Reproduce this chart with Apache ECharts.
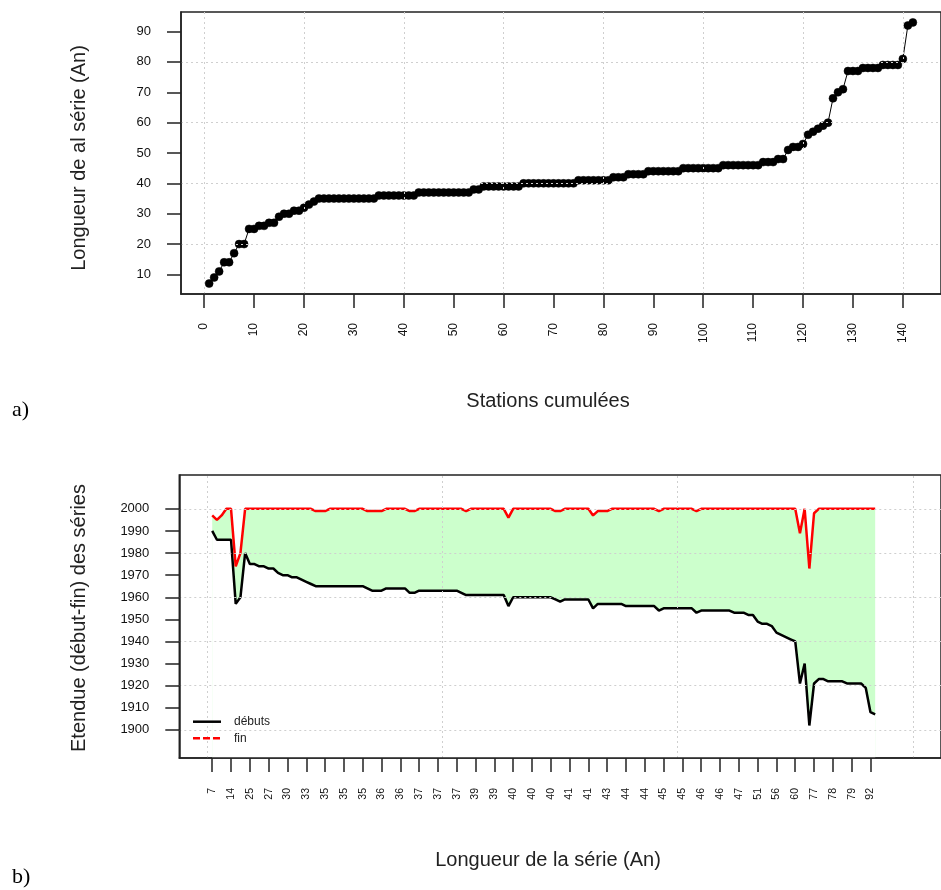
<!DOCTYPE html>
<html><head><meta charset="utf-8">
<script src="https://cdn.jsdelivr.net/npm/echarts@6/dist/echarts.min.js"></script>
<style>html,body{margin:0;padding:0;background:#fff}#c{width:941px;height:890px}</style>
</head><body><div id="c"></div>
<script>
// ---- Data ----
// a) lengths of the series (years), stations sorted by length
const stationLengths = [
  7, 9, 11, 14, 14, 17, 20, 20, 25, 25,
  26, 26, 27, 27, 29, 30, 30, 31, 31, 32,
  33, 34, 35, 35, 35, 35, 35, 35, 35, 35,
  35, 35, 35, 35, 36, 36, 36, 36, 36, 36,
  36, 36, 37, 37, 37, 37, 37, 37, 37, 37,
  37, 37, 37, 38, 38, 39, 39, 39, 39, 39,
  39, 39, 39, 40, 40, 40, 40, 40, 40, 40,
  40, 40, 40, 40, 41, 41, 41, 41, 41, 41,
  41, 42, 42, 42, 43, 43, 43, 43, 44, 44,
  44, 44, 44, 44, 44, 45, 45, 45, 45, 45,
  45, 45, 45, 46, 46, 46, 46, 46, 46, 46,
  46, 47, 47, 47, 48, 48, 51, 52, 52, 53,
  56, 57, 58, 59, 60, 68, 70, 71, 77, 77,
  77, 78, 78, 78, 78, 79, 79, 79, 79, 81,
  92, 93
];
// b) first year (débuts) per station
const debuts = [
  1990, 1986, 1986, 1986, 1986, 1957, 1960, 1980, 1975, 1975,
  1974, 1974, 1973, 1973, 1971, 1970, 1970, 1969, 1969, 1968,
  1967, 1966, 1965, 1965, 1965, 1965, 1965, 1965, 1965, 1965,
  1965, 1965, 1965, 1964, 1963, 1963, 1963, 1964, 1964, 1964,
  1964, 1964, 1962, 1962, 1963, 1963, 1963, 1963, 1963, 1963,
  1963, 1963, 1963, 1962, 1961, 1961, 1961, 1961, 1961, 1961,
  1961, 1961, 1961, 1956, 1960, 1960, 1960, 1960, 1960, 1960,
  1960, 1960, 1960, 1959, 1958, 1959, 1959, 1959, 1959, 1959,
  1959, 1955, 1957, 1957, 1957, 1957, 1957, 1957, 1956, 1956,
  1956, 1956, 1956, 1956, 1956, 1954, 1955, 1955, 1955, 1955,
  1955, 1955, 1955, 1953, 1954, 1954, 1954, 1954, 1954, 1954,
  1954, 1953, 1953, 1953, 1952, 1952, 1949, 1948, 1948, 1947,
  1944, 1943, 1942, 1941, 1940, 1921, 1930, 1902, 1921, 1923,
  1923, 1922, 1922, 1922, 1922, 1921, 1921, 1921, 1921, 1919,
  1908, 1907
];
// b) last year (fin) per station
const fins = [
  1997, 1995, 1997, 2000, 2000, 1974, 1980, 2000, 2000, 2000,
  2000, 2000, 2000, 2000, 2000, 2000, 2000, 2000, 2000, 2000,
  2000, 2000, 1999, 1999, 1999, 2000, 2000, 2000, 2000, 2000,
  2000, 2000, 2000, 1999, 1999, 1999, 1999, 2000, 2000, 2000,
  2000, 2000, 1999, 1999, 2000, 2000, 2000, 2000, 2000, 2000,
  2000, 2000, 2000, 2000, 1999, 2000, 2000, 2000, 2000, 2000,
  2000, 2000, 2000, 1996, 2000, 2000, 2000, 2000, 2000, 2000,
  2000, 2000, 2000, 1999, 1999, 2000, 2000, 2000, 2000, 2000,
  2000, 1997, 1999, 1999, 1999, 2000, 2000, 2000, 2000, 2000,
  2000, 2000, 2000, 2000, 2000, 1999, 2000, 2000, 2000, 2000,
  2000, 2000, 2000, 1999, 2000, 2000, 2000, 2000, 2000, 2000,
  2000, 2000, 2000, 2000, 2000, 2000, 2000, 2000, 2000, 2000,
  2000, 2000, 2000, 2000, 2000, 1989, 2000, 1973, 1998, 2000,
  2000, 2000, 2000, 2000, 2000, 2000, 2000, 2000, 2000, 2000,
  2000, 2000
];
// tick labels
const topXTicks = [0, 10, 20, 30, 40, 50, 60, 70, 80, 90, 100, 110, 120, 130, 140];
const topYTicks = [10, 20, 30, 40, 50, 60, 70, 80, 90];
const topXGrid = [0, 20, 40, 60, 80, 100, 120, 140];
const topYGrid = [20, 40, 60, 80];
const bottomYTicks = [1900, 1910, 1920, 1930, 1940, 1950, 1960, 1970, 1980, 1990, 2000];
const bottomYGrid = [1900, 1920, 1940, 1960, 1980, 2000];
const bottomXGrid = [0, 50, 100, 150];
const bottomXTickLabels = ['7','14','25','27','30','33','35','35','35','36','36','37','37','37','39','39','40','40',
  '40','41','41','43','44','44','45','45','46','46','47','51','56','60','77','78','79','92'];

// ---- Build ----
const FONT = "'Liberation Sans', Arial, sans-serif";
const stationIdx = stationLengths.map((_, i) => i + 1);
const bottomXTickPos = bottomXTickLabels.map((_, i) => 1 + 4 * i);
const labelMap = {};
bottomXTickPos.forEach((p, i) => { labelMap[p] = bottomXTickLabels[i]; });

const gridLine = { color: '#cfcfcf', type: [2, 3], width: 1 };
function gridMarks(xs, ys) {
  return {
    silent: true, symbol: 'none', label: { show: false }, lineStyle: gridLine, animation: false,
    emphasis: { disabled: true },
    data: xs.map(v => ({ xAxis: v })).concat(ys.map(v => ({ yAxis: v })))
  };
}
const axisBase = {
  z: 10,
  axisLine: { show: true, onZero: false, lineStyle: { color: '#222', width: 1.5 } },
  axisTick: { show: true, length: 14, lineStyle: { color: '#222', width: 1.5 } },
  splitLine: { show: false }
};

const chart = echarts.init(document.getElementById('c'), null, { renderer: 'canvas' });
chart.setOption({
  animation: false,
  backgroundColor: '#fff',
  grid: [
    { left: 181, top: 12, width: 764.5, height: 282, show: true, borderColor: '#222', borderWidth: 1.5, backgroundColor: 'transparent' },
    { left: 179.3, top: 475, width: 768, height: 283, show: true, borderColor: '#222', borderWidth: 1.5, backgroundColor: 'transparent' }
  ],
  xAxis: [
    Object.assign({}, axisBase, {
      type: 'value', gridIndex: 0, min: -4.64, max: 147.64,
      axisTick: Object.assign({}, axisBase.axisTick, { customValues: topXTicks }),
      axisLabel: { customValues: topXTicks, rotate: 90, margin: 29, fontSize: 12, color: '#111', fontFamily: FONT,
        formatter: v => String(v) }
    }),
    Object.assign({}, axisBase, {
      type: 'value', gridIndex: 1, min: -6, max: 156,
      axisTick: Object.assign({}, axisBase.axisTick, { customValues: bottomXTickPos }),
      axisLabel: { customValues: bottomXTickPos, rotate: 90, margin: 30, fontSize: 10.5, color: '#111', fontFamily: FONT,
        formatter: v => labelMap[v] !== undefined ? labelMap[v] : '' }
    })
  ],
  yAxis: [
    Object.assign({}, axisBase, {
      type: 'value', gridIndex: 0, min: 3.56, max: 96.44,
      axisTick: Object.assign({}, axisBase.axisTick, { customValues: topYTicks }),
      axisLabel: { customValues: topYTicks, margin: 30, fontSize: 13, color: '#111', fontFamily: FONT,
        formatter: v => String(v) }
    }),
    Object.assign({}, axisBase, {
      type: 'value', gridIndex: 1, min: 1887.3, max: 2015.3,
      axisTick: Object.assign({}, axisBase.axisTick, { customValues: bottomYTicks }),
      axisLabel: { customValues: bottomYTicks, margin: 30, fontSize: 13, color: '#111', fontFamily: FONT,
        formatter: v => String(v) }
    })
  ],
  series: [
    {
      type: 'line', xAxisIndex: 0, yAxisIndex: 0,
      data: stationIdx.map((x, i) => [x, stationLengths[i]]),
      symbol: 'circle', symbolSize: 8, showSymbol: true,
      itemStyle: { color: '#000', borderColor: '#000', borderWidth: 0.5 },
      lineStyle: { color: '#000', width: 1 },
      emphasis: { disabled: true },
      markLine: gridMarks(topXGrid, topYGrid)
    },
    {
      type: 'line', xAxisIndex: 1, yAxisIndex: 1, name: 'finArea',
      data: stationIdx.map((x, i) => [x, fins[i]]),
      symbol: 'none', lineStyle: { width: 0, opacity: 0 },
      areaStyle: { color: '#ccffcc', opacity: 1, origin: 'start' },
      emphasis: { disabled: true }
    },
    {
      type: 'line', xAxisIndex: 1, yAxisIndex: 1, name: 'debArea',
      data: stationIdx.map((x, i) => [x, debuts[i]]),
      symbol: 'none', lineStyle: { width: 0, opacity: 0 },
      areaStyle: { color: '#ffffff', opacity: 1, origin: 'start' },
      emphasis: { disabled: true }
    },
    {
      type: 'line', xAxisIndex: 1, yAxisIndex: 1, name: 'débuts',
      data: stationIdx.map((x, i) => [x, debuts[i]]),
      symbol: 'none', lineStyle: { color: '#000', width: 2.5 },
      emphasis: { disabled: true }
    },
    {
      type: 'line', xAxisIndex: 1, yAxisIndex: 1, name: 'fin',
      data: stationIdx.map((x, i) => [x, fins[i]]),
      symbol: 'none', lineStyle: { color: '#ff0000', width: 2.5 },
      emphasis: { disabled: true },
      markLine: gridMarks(bottomXGrid, bottomYGrid)
    }
  ],
  graphic: [
    { type: 'text', x: 79, y: 158, rotation: Math.PI / 2, z: 100,
      style: { text: 'Longueur de al série (An)', font: "20px " + FONT, fill: '#222', textAlign: 'center', textVerticalAlign: 'middle' } },
    { type: 'text', x: 548, y: 401, z: 100,
      style: { text: 'Stations cumulées', font: "20px " + FONT, fill: '#222', textAlign: 'center', textVerticalAlign: 'middle' } },
    { type: 'text', x: 79, y: 618, rotation: Math.PI / 2, z: 100,
      style: { text: 'Etendue (début-fin) des séries', font: "20px " + FONT, fill: '#222', textAlign: 'center', textVerticalAlign: 'middle' } },
    { type: 'text', x: 548, y: 860, z: 100,
      style: { text: 'Longueur de la série (An)', font: "20px " + FONT, fill: '#222', textAlign: 'center', textVerticalAlign: 'middle' } },
    { type: 'text', x: 12, y: 410, z: 100,
      style: { text: 'a)', font: "22px 'Liberation Serif', 'Times New Roman', serif", fill: '#000', textAlign: 'left', textVerticalAlign: 'middle' } },
    { type: 'text', x: 12, y: 877, z: 100,
      style: { text: 'b)', font: "22px 'Liberation Serif', 'Times New Roman', serif", fill: '#000', textAlign: 'left', textVerticalAlign: 'middle' } },
    // legend
    { type: 'line', z: 100, shape: { x1: 193, y1: 721.7, x2: 221, y2: 721.7 }, style: { stroke: '#000', lineWidth: 2.5 } },
    { type: 'line', z: 100, shape: { x1: 193, y1: 738.3, x2: 221, y2: 738.3 }, style: { stroke: '#ff0000', lineWidth: 2.5, lineDash: [7, 3] } },
    { type: 'text', z: 100, x: 234, y: 722, style: { text: 'débuts', font: "12px " + FONT, fill: '#222', textAlign: 'left', textVerticalAlign: 'middle' } },
    { type: 'text', z: 100, x: 234, y: 738.5, style: { text: 'fin', font: "12px " + FONT, fill: '#222', textAlign: 'left', textVerticalAlign: 'middle' } }
  ]
});
</script>
</body></html>
